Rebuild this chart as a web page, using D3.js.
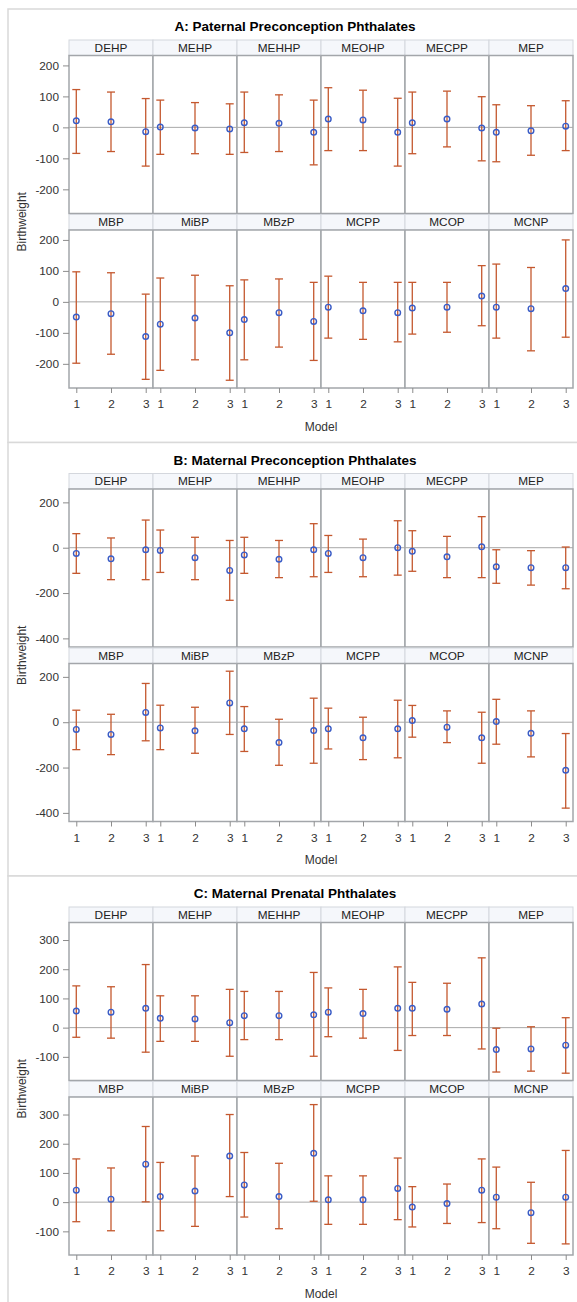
<!DOCTYPE html>
<html>
<head>
<meta charset="utf-8">
<script src="https://cdn.jsdelivr.net/npm/d3@7"></script>
<style>
  body { margin: 0; background: #fff; }
  text { font-family: Arial, "Liberation Sans", sans-serif; }
</style>
</head>
<body>
<div id="chart"></div>
<script>
// categories
var phthalates = ['DEHP', 'MEHP', 'MEHHP', 'MEOHP', 'MECPP', 'MEP',
                  'MBP', 'MiBP', 'MBzP', 'MCPP', 'MCOP', 'MCNP'];
var models = [1, 2, 3];
var titles = ['A: Paternal Preconception Phthalates',
              'B: Maternal Preconception Phthalates',
              'C: Maternal Prenatal Phthalates'];
var yTicks = [[-200, -100, 0, 100, 200], [-400, -200, 0, 200], [-100, 0, 100, 200, 300]];
var yDomains = [[-278, 232], [-438, 259], [-181, 360]];

// A: paternal preconception (one row per phthalate, models 1..3)
var estA = [[21, 18, -14], [1, -2, -5], [15, 13, -16], [27, 24, -16], [15, 27, -2], [-16, -11, 4],
            [-49, -38, -112], [-72, -52, -100], [-57, -35, -63], [-17, -29, -35], [-20, -17, 19], [-17, -22, 43]];
var lowA = [[-84, -78, -125], [-87, -85, -87], [-81, -78, -121], [-75, -75, -125], [-85, -63, -108], [-111, -90, -75],
            [-198, -169, -250], [-221, -187, -253], [-187, -146, -189], [-117, -121, -129], [-104, -98, -77], [-117, -158, -114]];
var upA  = [[122, 114, 93], [88, 80, 76], [114, 105, 88], [128, 120, 94], [114, 117, 99], [73, 70, 86],
            [97, 94, 25], [77, 86, 52], [71, 74, 63], [83, 63, 63], [63, 63, 117], [122, 111, 200]];

// B: maternal preconception
var estB = [[-25, -49, -9], [-12, -44, -100], [-32, -51, -9], [-25, -44, 0], [-16, -40, 4], [-84, -88, -88],
            [-32, -54, 43], [-25, -38, 85], [-29, -90, -37], [-29, -69, -29], [7, -22, -69], [3, -49, -212]];
var lowB = [[-113, -141, -141], [-109, -141, -232], [-113, -132, -128], [-109, -128, -121], [-104, -132, -132], [-157, -165, -181],
            [-121, -143, -82], [-121, -137, -54], [-129, -190, -181], [-118, -165, -157], [-66, -90, -181], [-97, -153, -379]];
var upB  = [[62, 43, 122], [78, 46, 32], [46, 32, 106], [54, 38, 119], [75, 50, 137], [-9, -13, 3],
            [53, 35, 171], [75, 66, 225], [69, 13, 106], [62, 22, 97], [74, 50, 44], [101, 50, -50]];

// C: maternal prenatal
var estC = [[57, 53, 66], [32, 30, 17], [41, 41, 44], [53, 48, 66], [66, 63, 81], [-75, -73, -60],
            [41, 10, 130], [19, 38, 158], [59, 19, 167], [8, 8, 47], [-17, -5, 41], [17, -36, 17]];
var lowC = [[-33, -36, -84], [-47, -47, -98], [-41, -41, -98], [-31, -36, -78], [-27, -27, -73], [-152, -149, -156],
            [-67, -98, 1], [-98, -83, 19], [-51, -91, 3], [-76, -76, -60], [-85, -73, -70], [-91, -141, -143]];
var upC  = [[143, 140, 216], [109, 109, 131], [124, 124, 189], [136, 131, 208], [155, 152, 239], [-2, 3, 34],
            [148, 117, 259], [136, 158, 300], [170, 133, 334], [90, 90, 151], [53, 62, 148], [120, 68, 177]];

var estimates = [estA, estB, estC];
var lowers = [lowA, lowB, lowC];
var uppers = [upA, upB, upC];

var width = 577, height = 1302;
var barColor = '#c4582e', markColor = '#3a5cc6';
var gridLeft = 69, colW = 84, nCols = 6;
var panelTop = [9, 442.5, 876], panelH = 433.5;
var rows = [{ strip: 31, top: 46.5 }, { strip: 205.5, top: 221 }];
var plotH = 158, stripH = 15.5;
var fontFam = 'Arial, "Liberation Sans", sans-serif';

var svg = d3.select('#chart').append('svg')
    .attr('width', width)
    .attr('height', height);

var x = d3.scalePoint().domain(models).range([0, colW]).padding(0.21);

panelTop.forEach(function (top, p) {
    var g = svg.append('g').attr('transform', 'translate(0,' + top + ')');

    g.append('rect')
        .attr('x', 8).attr('y', 0)
        .attr('width', 600).attr('height', panelH)
        .attr('fill', '#fff')
        .attr('stroke', '#d9d9d9')
        .attr('stroke-width', 1.5);

    g.append('text')
        .attr('x', 295).attr('y', 22)
        .attr('text-anchor', 'middle')
        .attr('font-size', 13.5).attr('font-weight', 'bold')
        .attr('fill', '#000')
        .text(titles[p]);

    var y = d3.scaleLinear().domain(yDomains[p]).range([plotH, 0]);

    rows.forEach(function (row, r) {
        var rowG = g.append('g').attr('transform', 'translate(0,' + row.top + ')');

        for (var c = 0; c < nCols; c++) {
            var idx = r * nCols + c;
            var cell = rowG.append('g').attr('transform', 'translate(' + (gridLeft + c * colW) + ',0)');

            cell.append('rect')
                .attr('x', 0).attr('y', row.strip - row.top)
                .attr('width', colW).attr('height', stripH)
                .attr('fill', '#f5f7fb')
                .attr('stroke', '#d4d7dd');

            cell.append('text')
                .attr('x', colW / 2).attr('y', row.strip - row.top + stripH / 2 + 4.2)
                .attr('text-anchor', 'middle')
                .attr('font-size', 11.8)
                .attr('fill', '#222')
                .text(phthalates[idx]);

            cell.append('rect')
                .attr('width', colW).attr('height', plotH)
                .attr('fill', '#fff')
                .attr('stroke', '#a3a6aa')
                .attr('stroke-width', 1.5);

            cell.append('line')
                .attr('x1', 0).attr('x2', colW)
                .attr('y1', y(0)).attr('y2', y(0))
                .attr('stroke', '#a8a8a8');

            var pts = models.map(function (m, i) {
                return { m: m, est: estimates[p][idx][i], lo: lowers[p][idx][i], hi: uppers[p][idx][i] };
            });

            var bars = cell.selectAll('.bar').data(pts).enter().append('g').attr('class', 'bar')
                .attr('stroke', barColor).attr('stroke-width', 1.3);
            bars.append('line')
                .attr('x1', function (d) { return x(d.m); }).attr('x2', function (d) { return x(d.m); })
                .attr('y1', function (d) { return y(d.lo); }).attr('y2', function (d) { return y(d.hi); });
            bars.append('line')
                .attr('x1', function (d) { return x(d.m) - 4; }).attr('x2', function (d) { return x(d.m) + 4; })
                .attr('y1', function (d) { return y(d.lo); }).attr('y2', function (d) { return y(d.lo); });
            bars.append('line')
                .attr('x1', function (d) { return x(d.m) - 4; }).attr('x2', function (d) { return x(d.m) + 4; })
                .attr('y1', function (d) { return y(d.hi); }).attr('y2', function (d) { return y(d.hi); });

            cell.selectAll('.pt').data(pts).enter().append('circle').attr('class', 'pt')
                .attr('cx', function (d) { return x(d.m); })
                .attr('cy', function (d) { return y(d.est); })
                .attr('r', 2.8)
                .attr('fill', 'none')
                .attr('stroke', markColor)
                .attr('stroke-width', 1.4);

            if (r === 1) {
                var xa = cell.append('g').attr('transform', 'translate(0,' + plotH + ')')
                    .call(d3.axisBottom(x).tickSize(5).tickSizeOuter(0).tickPadding(7));
                xa.select('.domain').remove();
                xa.selectAll('line').attr('stroke', '#8c8c8c');
                xa.selectAll('text').attr('font-size', 11.8).attr('fill', '#333')
                    .attr('font-family', fontFam);
            }
        }

        var ya = rowG.append('g').attr('transform', 'translate(' + gridLeft + ',0)')
            .call(d3.axisLeft(y).tickValues(yTicks[p]).tickSize(6).tickSizeOuter(0).tickPadding(4)
                .tickFormat(function (d) { return String(d); }));
        ya.select('.domain').remove();
        ya.selectAll('line').attr('stroke', '#8c8c8c');
        ya.selectAll('text').attr('font-size', 11.8).attr('fill', '#333')
            .attr('font-family', fontFam);
    });

    g.append('text')
        .attr('transform', 'translate(26,' + (rows[0].top + rows[1].top + plotH) / 2 + ') rotate(-90)')
        .attr('text-anchor', 'middle')
        .attr('font-size', 12)
        .attr('fill', '#333')
        .text('Birthweight');

    g.append('text')
        .attr('x', gridLeft + nCols * colW / 2).attr('y', 421.5)
        .attr('text-anchor', 'middle')
        .attr('font-size', 12)
        .attr('fill', '#333')
        .text('Model');
});
</script>
</body>
</html>
